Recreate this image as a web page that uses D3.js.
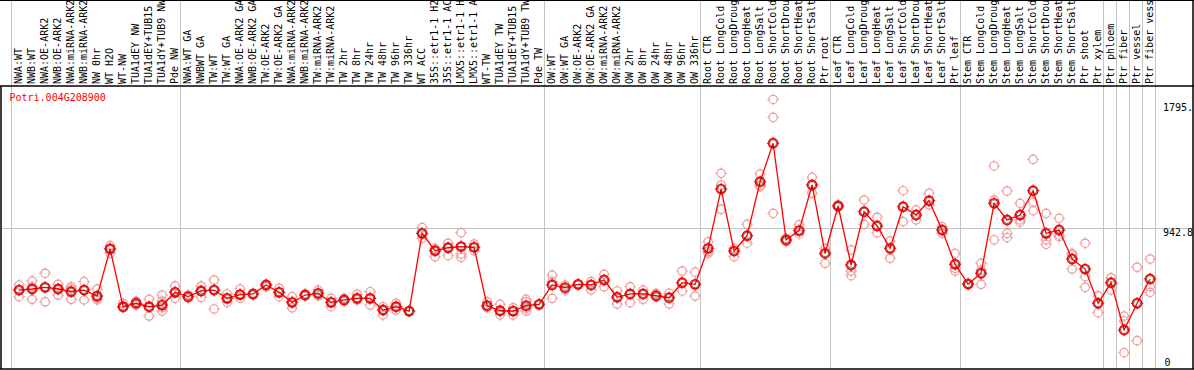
<!DOCTYPE html>
<html><head><meta charset="utf-8">
<script src="https://cdn.jsdelivr.net/npm/d3@7"></script>
<style>html,body{margin:0;padding:0;background:#fff;}svg{display:block;}</style>
</head><body>
<svg id="chart" width="1194" height="370"></svg>
<script>
const geneId = "Potri.004G208900";
const categories = ["NWA:WT","NWB:WT","NWA:OE-ARK2","NWB:OE-ARK2","NWA:miRNA-ARK2","NWB:miRNA-ARK2","NW 0hr","WT H2O","WT-NW","TUA1dEY NW","TUA1dEY+TUB15 NW","TUA1dY+TUB9 NW","Pde NW",
"NWA:WT GA","NWBWT GA","TW:WT","TW:WT GA","NWA:OE-ARK2 GA","NWB:OE-ARK2 GA","TW:OE-ARK2","TW:OE-ARK2 GA","NWA:miRNA-ARK2","NWB:miRNA-ARK2","TW:miRNA-ARK2","TW:miRNA-ARK2","TW 2hr","TW 8hr","TW 24hr","TW 48hr","TW 96hr","TW 336hr","WT ACC","35S::etr1-1 H2O","35S::etr1-1 ACC","LMX5::etr1-1 H2O","LMX5::etr1-1 ACC","WT-TW","TUA1dEY TW","TUA1dEY+TUB15 TW","TUA1dY+TUB9 TW","Pde TW",
"OW:WT","OW:WT GA","OW:OE-ARK2","OW:OE-ARK2 GA","OW:miRNA-ARK2","OW:miRNA-ARK2","OW 2hr","OW 8hr","OW 24hr","OW 48hr","OW 96hr","OW 336hr",
"Root CTR","Root LongCold","Root LongDrought","Root LongHeat","Root LongSalt","Root ShortCold","Root ShortDrought","Root ShortHeat","Root ShortSalt","Ptr root",
"Leaf CTR","Leaf LongCold","Leaf LongDrought","Leaf LongHeat","Leaf LongSalt","Leaf ShortCold","Leaf ShortDrought","Leaf ShortHeat","Leaf ShortSalt","Ptr leaf",
"Stem CTR","Stem LongCold","Stem LongDrought","Stem LongHeat","Stem LongSalt","Stem ShortCold","Stem ShortDrought","Stem ShortHeat","Stem ShortSalt","Ptr shoot","Ptr xylem",
"Ptr phloem","Ptr fiber","Ptr vessel","Ptr fiber vessel"];
// index of the first category of each group
const groupStarts = [0, 13, 41, 53, 63, 73, 84, 85, 86, 87];
const meanValues = [526,533,544,533,515,526,486,800,415,438,415,426,511,
482,520,526,471,496,500,560,511,444,493,504,444,460,471,471,393,415,386,904,788,808,816,811,422,388,386,422,431,
560,542,564,560,593,478,500,500,488,475,575,564,
804,1199,786,888,1248,1504,860,922,1226,771,1086,
693,1048,953,804,1081,1026,1121,926,698,566,
638,1104,993,1026,1188,904,926,733,666,438,575,
260,438,600];
const replicateValues = [
[560,526,482],[586,548,464],[638,544,448],[564,533,493],[548,533,464],[582,526,460],[533,471,460],[822,804,771],[438,415,408],[453,438,426],[464,415,353],[493,453,408,386],[553,515,471],
[493,473],[553,515,478],[593,526,400],[500,471,444],[533,496,471],[503,493],[564,560,548],[538,511,482],[482,444,408],[500,486],[526,504,488],[471,444,415],[471,451],[498,471,460],[515,471,426],[415,393,360],[438,415,393],[386,386],[942,904,871],[804,788,748],[838,808,755],[908,815,766,744],[833,811,788],[448,422,408],[431,388,360],[408,386,360],[464,448,404,386],[431,431],
[626,582,471],[560,526],[564,564],[582,526],[631,548],[520,433],[548,442],[526,464],[504,478],[504,433],[653,520],[646,486],
[848,782,771],[1304,1226,1064],[804,748],[964,838],[1299,1226,1215],[1796,1677,1037],[871,848],[960,900],[1277,1171],[804,704],[1093,1079],
[793,653,622],[1126,964],[1011,908],[853,738],[1188,982],[1059,993],[1171,1093],[948,904],[771,671,653],[570,563],
[704,660,564],[1353,1126,860],[1186,904,875],[1104,993,978],[1397,1111,1055],[1037,860,831],[1004,893,882],[771,760,666],[838,615,544],[488,375],[608,526],
[353,320,109],[678,189],[733,548,511]];
const yMaxLabel = "1795.";
const yMidLabel = "942.8";
const yMinLabel = "0";
const yMaxValue = 1795.8;
const yMidValue = 942.8;

const svg = d3.select("#chart");
const W = 1194, H = 370;
const pLeft = 1, pRight = 1193, pTop = 86, pBottom = 369;

const x = d3.scaleBand().domain(d3.range(categories.length)).range([11.3, 1155.3]).paddingInner(0).paddingOuter(0);
const cx = i => x(i) + x.bandwidth() * 0.6;
const y = d3.scaleLinear().domain([0, yMidValue * 2]).range([pBottom, pTop]);

svg.append("clipPath").attr("id","clipAll").append("rect").attr("x",pLeft).attr("y",0).attr("width",pRight-pLeft).attr("height",H);

// vertical group lines
const bounds = groupStarts.map(i => x(i)).concat([x.range()[1]]);
svg.append("g").selectAll("line").data(bounds).join("line")
  .attr("x1", d => Math.round(d) + 0.5).attr("x2", d => Math.round(d) + 0.5)
  .attr("y1", 0).attr("y2", pBottom)
  .attr("stroke", "#c4c4c4").attr("stroke-width", 1);

// mid horizontal grid line
svg.append("line").attr("x1", pLeft).attr("x2", pRight)
  .attr("y1", Math.round(y(yMidValue)) + 0.5).attr("y2", Math.round(y(yMidValue)) + 0.5)
  .attr("stroke", "#c4c4c4").attr("stroke-width", 1);

// header labels
const hdr = svg.append("g").attr("clip-path","url(#clipAll)");
hdr.selectAll("text").data(categories).join("text")
  .attr("transform", (d, i) => `translate(${cx(i) + 2.5},84) rotate(-90)`)
  .attr("font-family", "'DejaVu Sans Mono', monospace").attr("font-size", 10)
  .attr("fill", "#000").text(d => d);

// frame
svg.append("line").attr("x1",0).attr("x2",W).attr("y1",0.5).attr("y2",0.5).attr("stroke","#000").attr("stroke-width",1);
svg.append("line").attr("x1",0).attr("x2",W).attr("y1",pTop).attr("y2",pTop).attr("stroke","#000").attr("stroke-width",1.5);
svg.append("line").attr("x1",0).attr("x2",W).attr("y1",pBottom).attr("y2",pBottom).attr("stroke","#000").attr("stroke-width",1.5);
svg.append("line").attr("x1",pLeft).attr("x2",pLeft).attr("y1",pTop).attr("y2",pBottom).attr("stroke","#000").attr("stroke-width",1.5);
svg.append("line").attr("x1",pRight).attr("x2",pRight).attr("y1",0).attr("y2",pBottom).attr("stroke","#000").attr("stroke-width",1.5);

// title
svg.append("text").attr("x", 9.5).attr("y", 101)
  .attr("font-family", "'DejaVu Sans Mono', monospace").attr("font-size", 10)
  .attr("fill", "#ff0000").text(geneId);

// y labels
const ylab = svg.append("g").attr("clip-path","url(#clipAll)")
  .attr("font-family", "'DejaVu Sans Mono', monospace").attr("font-size", 10).attr("fill", "#000");
ylab.append("text").attr("x", 1163).attr("y", y(yMaxValue) + 11.5).text(yMaxLabel);
ylab.append("text").attr("x", 1163).attr("y", y(yMidValue) + 8).text(yMidLabel);
ylab.append("text").attr("x", 1164.5).attr("y", Math.min(y(0), pBottom - 3)).text(yMinLabel);

function marker(g, px, py, r, color, sw) {
  g.append("circle").attr("cx", px).attr("cy", py).attr("r", r)
    .attr("fill", "none").attr("stroke", color).attr("stroke-width", sw);
  const t = [[0,-1],[0,1],[-1,0],[1,0]];
  t.forEach(([dx, dy]) => {
    g.append("line").attr("x1", px + dx * (r - 0.5)).attr("y1", py + dy * (r - 0.5))
      .attr("x2", px + dx * (r + 1.6)).attr("y2", py + dy * (r + 1.6))
      .attr("stroke", color).attr("stroke-width", 1);
  });
}

// replicates
const repG = svg.append("g");
replicateValues.forEach((reps, i) => {
  reps.forEach(v => marker(repG, cx(i), y(v), 4.2, "#f09a9a", 1.2));
});

// mean line
const line = d3.line().x((d, i) => cx(i)).y(d => y(d));
svg.append("path").datum(meanValues).attr("d", line)
  .attr("fill", "none").attr("stroke", "#ff0000").attr("stroke-width", 1.3);

// mean markers
const meanG = svg.append("g");
meanValues.forEach((v, i) => {
  marker(meanG, cx(i), y(v), 4.6, "#ff0000", 1.6);
  meanG.append("circle").attr("cx", cx(i)).attr("cy", y(v)).attr("r", 3.5)
    .attr("fill", "none").attr("stroke", "#400000").attr("stroke-width", 0.6);
});
</script>
</body></html>
